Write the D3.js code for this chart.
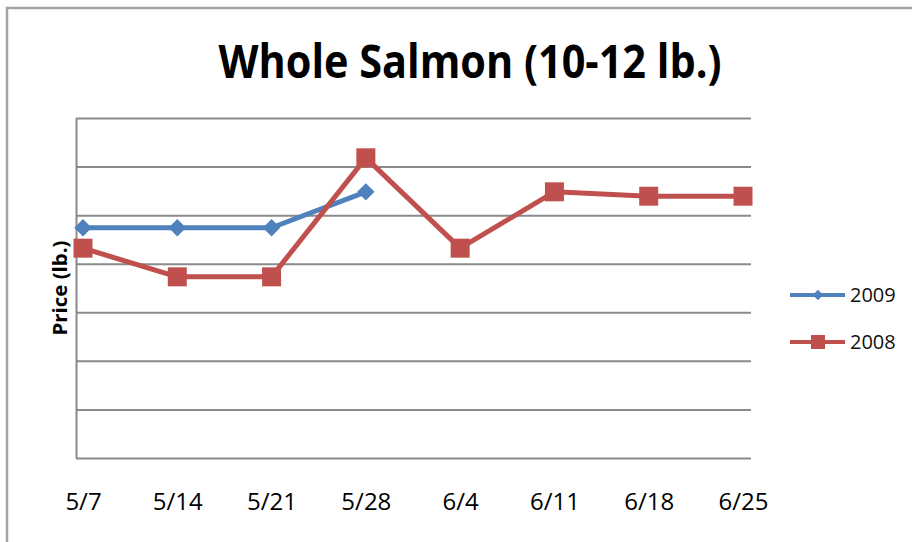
<!DOCTYPE html>
<style>
body {
  margin: 0;
  background: #fff;
  font-family: 'Open Sans', sans-serif;
}
.grid line, .grid .domain {
  stroke: #8a8a8a;
  stroke-width: 2;
}
.xaxis .domain {
  display: none;
}
</style>
<svg width="912" height="542"></svg>
<script src="https://d3js.org/d3.v7.min.js"></script>
<script>
// data (price per lb., one gridline = 1)
var dates = ["5/7", "5/14", "5/21", "5/28", "6/4", "6/11", "6/18", "6/25"];
var price2009 = [4.74, 4.74, 4.74, 5.48];
var price2008 = [4.32, 3.73, 3.73, 6.18, 4.32, 5.48, 5.39, 5.39];
var yTicks = [0, 1, 2, 3, 4, 5, 6, 7];
var seriesNames = ["2009", "2008"];
var seriesColors = ["#4f81bd", "#c0504d"];
// excel-style markers: diamond is a square turned 45 degrees
var markerRotate = [45, 0];
var markerSize = [150, 361];
var legendMarkerSize = [56, 196];

var svg = d3.select("svg"),
    margin = {top: 118, right: 161, bottom: 84, left: 76},
    width = +svg.attr("width") - margin.left - margin.right,
    height = +svg.attr("height") - margin.top - margin.bottom;

// outer chart frame (runs off the right and bottom edges)
svg.append("rect")
    .attr("x", 7)
    .attr("y", 8)
    .attr("width", 1000)
    .attr("height", 1000)
    .attr("fill", "none")
    .attr("stroke", "#a3a3a3")
    .attr("stroke-width", 2.5);

var g = svg.append("g").attr("transform", "translate(" + margin.left + "," + margin.top + ")");

var x = d3.scalePoint()
    .domain(dates)
    .range([7, width - 8]);

var y = d3.scaleLinear()
    .domain([0, 7])
    .range([height, 0]);

// gridlines + left axis line
g.append("g")
    .attr("class", "grid")
    .call(d3.axisLeft(y).tickValues(yTicks).tickSize(-width).tickSizeOuter(0).tickFormat(""));

g.append("g")
    .attr("class", "xaxis")
    .attr("transform", "translate(0," + height + ")")
    .call(d3.axisBottom(x).tickSize(0).tickPadding(35))
    .selectAll("text")
      .attr("font-family", "'Open Sans', sans-serif")
      .attr("font-size", 24)
      .attr("fill", "#000");

var series = [
  {name: seriesNames[0], values: price2009},
  {name: seriesNames[1], values: price2008}
];

var line = d3.line()
    .x(function(d, i) { return x(dates[i]); })
    .y(function(d) { return y(d); });

series.forEach(function(s, k) {
  g.append("path")
      .datum(s.values)
      .attr("fill", "none")
      .attr("stroke", seriesColors[k])
      .attr("stroke-width", 5)
      .attr("stroke-linejoin", "round")
      .attr("d", line);

  g.selectAll(".m" + k)
    .data(s.values)
    .enter().append("path")
      .attr("class", "m" + k)
      .attr("transform", function(d, i) {
        return "translate(" + x(dates[i]) + "," + y(d) + ") rotate(" + markerRotate[k] + ")";
      })
      .attr("fill", seriesColors[k])
      .attr("d", d3.symbol().type(d3.symbolSquare).size(markerSize[k]));
});

// title
svg.append("text")
    .attr("x", 470)
    .attr("y", 78)
    .attr("text-anchor", "middle")
    .attr("font-size", 46)
    .attr("font-weight", "bold")
    .attr("textLength", 503)
    .attr("lengthAdjust", "spacingAndGlyphs")
    .text("Whole Salmon (10-12 lb.)");

// y axis title
svg.append("text")
    .attr("transform", "translate(67,288) rotate(-90)")
    .attr("text-anchor", "middle")
    .attr("font-size", 19)
    .attr("font-weight", "bold")
    .attr("textLength", 95)
    .attr("lengthAdjust", "spacingAndGlyphs")
    .text("Price (lb.)");

// legend
var legend = svg.append("g")
    .selectAll("g")
    .data(series)
    .enter().append("g")
      .attr("transform", function(d, i) { return "translate(790," + (295 + i * 47) + ")"; });

legend.append("line")
    .attr("x1", 0)
    .attr("x2", 55)
    .attr("stroke", function(d, i) { return seriesColors[i]; })
    .attr("stroke-width", 4);

legend.append("path")
    .attr("transform", function(d, i) { return "translate(28,0) rotate(" + markerRotate[i] + ")"; })
    .attr("fill", function(d, i) { return seriesColors[i]; })
    .attr("d", function(d, i) { return d3.symbol().type(d3.symbolSquare).size(legendMarkerSize[i])(); });

legend.append("text")
    .attr("x", 60)
    .attr("y", 7)
    .attr("font-size", 20)
    .attr("fill", "#111")
    .text(function(d) { return d.name; });
</script>
